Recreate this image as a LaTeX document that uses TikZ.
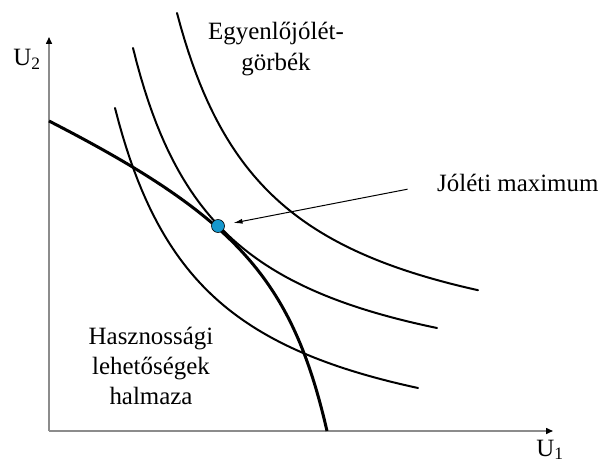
\documentclass[tikz,border=0pt]{standalone}
\usepackage{fontspec}
\setmainfont{Liberation Serif}
\usetikzlibrary{arrows.meta}
\definecolor{dotblue}{RGB}{22,152,206}

\begin{document}
\begin{tikzpicture}[x=1bp,y=-1bp,
	font=\fontsize{25}{30.5}\selectfont,
	axis/.style={line width=1.5bp, draw=black!45, -{Triangle[length=7bp,width=6bp,black]}},
	icurve/.style={line width=2bp, line cap=round, samples=80},
	frontier/.style={line width=3bp},
	label/.style={align=center, inner sep=0pt}]
	\useasboundingbox (0,0) rectangle (602,464);
    % --- AXES ---
	\coordinate (origo) at (49,431);
	\coordinate (ytop) at (49,37);
	\coordinate (xend) at (553,431);
	\draw[axis] (origo) -- (ytop);
	\draw[axis] (origo) -- (xend);
	\node[label, anchor=base] (utwo) at (27,66) {U\textsubscript{2}};
	\node[label, anchor=base] (uone) at (550,456) {U\textsubscript{1}};

    % --- INDIFFERENCE CURVES (y = b - k/(x-a)) ---
	\draw[icurve, domain=115:418] plot (\x,{473.5-338.2/(\x-22.47)*100});
	\draw[icurve, domain=133:437] plot (\x,{409.7-320.83/(\x-44.3)*100});
	\draw[icurve, domain=177:478] plot (\x,{378.4-350.05/(\x-81.2)*100});

    % --- UTILITY POSSIBILITY FRONTIER ---
	\draw[frontier] (49,121) .. controls (236,217) and (292,279) .. (327,431);

	\node[circle, fill=dotblue, draw=black, line width=0.6bp, minimum size=13bp, inner sep=0pt] (opt) at (218,226) {};

    % --- LABELS ---
	\node[label] (egy) at (276,49) {Egyenlőjólét-\\görbék};
	\node[label] (hasz) at (151,366) {Hasznossági\\lehetőségek\\halmaza};
	\node[label, anchor=base west] (jm) at (437,192) {Jóléti maximum};
	\draw[line width=1bp, -{Latex[length=9bp,width=5bp]}, shorten <=30bp, shorten >=9bp] (jm.west) -- (opt);
\end{tikzpicture}
\end{document}
